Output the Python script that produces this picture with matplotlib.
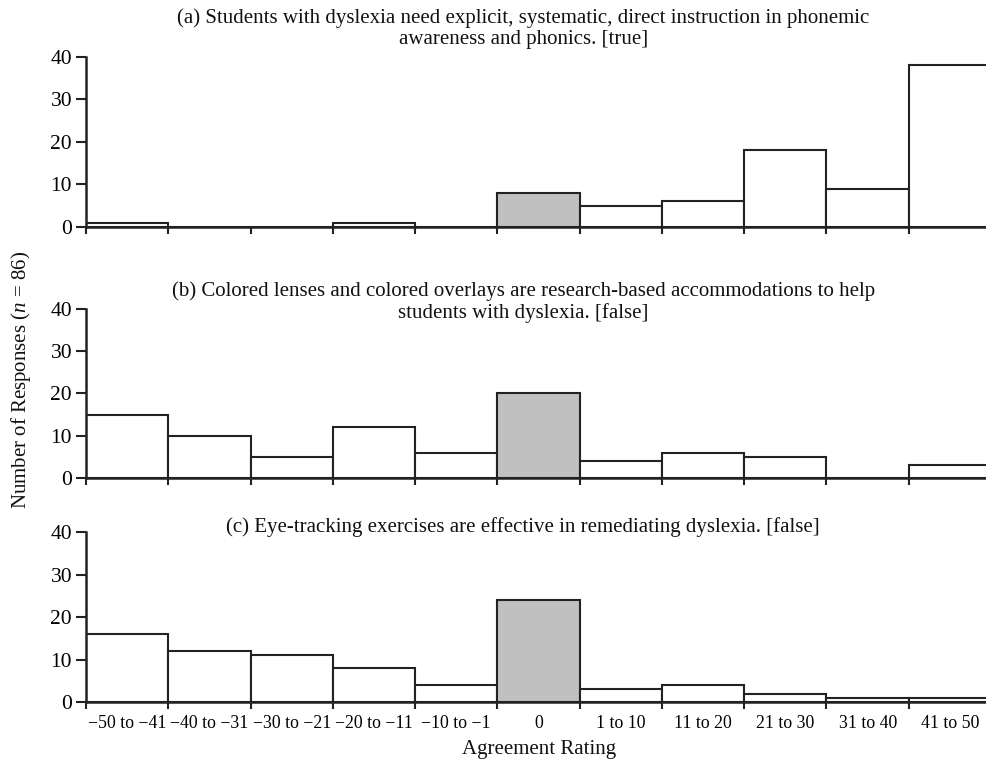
import matplotlib
matplotlib.use("Agg")
import matplotlib.pyplot as plt

plt.rcParams['font.family'] = ['Liberation Serif', 'DejaVu Serif']
plt.rcParams['mathtext.fontset'] = 'custom'
plt.rcParams['mathtext.it'] = 'Liberation Serif:italic'
plt.rcParams['mathtext.rm'] = 'Liberation Serif'

bins = ["\u221250 to \u221241", "\u221240 to \u221231", "\u221230 to \u221221",
        "\u221220 to \u221211", "\u221210 to \u22121", "0",
        "1 to 10", "11 to 20", "21 to 30", "31 to 40", "41 to 50"]

counts_a = [1, 0, 0, 1, 0, 8, 5, 6, 18, 9, 38]
counts_b = [15, 10, 5, 12, 6, 20, 4, 6, 5, 0, 3]
counts_c = [16, 12, 11, 8, 4, 24, 3, 4, 2, 1, 1]

titles = [
    "(a) Students with dyslexia need explicit, systematic, direct instruction in phonemic\nawareness and phonics. [true]",
    "(b) Colored lenses and colored overlays are research-based accommodations to help\nstudents with dyslexia. [false]",
    "(c) Eye-tracking exercises are effective in remediating dyslexia. [false]",
]

fig = plt.figure(figsize=(9.87, 7.59), dpi=100)

# axes boxes in figure fractions (left, bottom, width, height)
boxes = [
    (0.0871, 0.701, 0.917, 0.2245),
    (0.0871, 0.370, 0.917, 0.2235),
    (0.0871, 0.075, 0.917, 0.2235),
]
title_y = [0.9618, 0.6014, 0.3057]

all_counts = [counts_a, counts_b, counts_c]
for i, (box, counts) in enumerate(zip(boxes, all_counts)):
    ax = fig.add_axes(box)
    colors = ['#c0c0c0' if b == "0" else 'white' for b in bins]
    x = [k + 0.5 for k in range(len(bins))]
    ax.bar(x, counts, width=1.0, color=colors, edgecolor='#222222',
           linewidth=1.5, zorder=2)
    ax.set_xlim(0, len(bins))
    ax.set_ylim(0, 40)
    ax.set_yticks([0, 10, 20, 30, 40])
    ax.set_xticks(range(len(bins) + 1))
    ax.set_xticklabels([])
    ax.set_xticks(x, minor=True)
    if i == 2:
        ax.set_xticklabels(bins, minor=True, fontsize=12.8)
    ax.tick_params(axis='x', which='minor', length=0, pad=9)
    ax.tick_params(axis='x', which='major', direction='out', length=5,
                   width=1.5, color='#222222')
    ax.tick_params(axis='y', direction='out', length=7, width=1.5,
                   color='#222222', labelsize=15.5, pad=3)
    for side in ['top', 'right']:
        ax.spines[side].set_visible(False)
    for side in ['left', 'bottom']:
        ax.spines[side].set_linewidth(1.8)
        ax.spines[side].set_color('#222222')
        ax.spines[side].set_zorder(3)
    fig.text(0.530, title_y[i], titles[i], ha='center', va='center',
             fontsize=15, linespacing=1.15, color='#111111')

fig.text(0.021, 0.5, "Number of Responses ($n$ = 86)", rotation=90,
         ha='center', va='center', fontsize=15, color='#111111')
fig.text(0.546, 0.0, "Agreement Rating", ha='center', va='bottom',
         fontsize=15, color='#111111')

fig.savefig("out.png", dpi=100, facecolor='white')
